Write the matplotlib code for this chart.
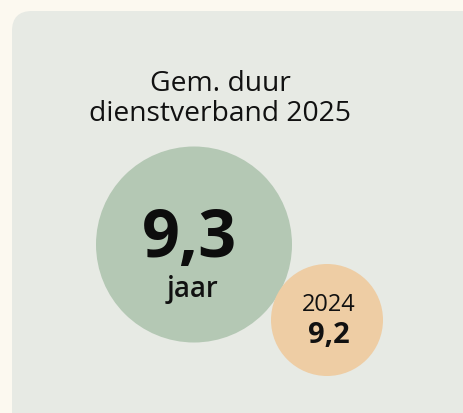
import matplotlib
matplotlib.use("Agg")
import matplotlib.pyplot as plt
from matplotlib.patches import Circle, FancyBboxPatch

# Data
title_lines = ["Gem. duur", "dienstverband 2025"]
value_2025 = "9,3"
unit_2025 = "jaar"
label_2024 = "2024"
value_2024 = "9,2"

W, H = 464, 414
fig = plt.figure(figsize=(W / 100, H / 100), dpi=100)
fig.patch.set_facecolor("#fcf9f0")
ax = fig.add_axes([0, 0, 1, 1])
ax.set_xlim(0, W)
ax.set_ylim(H, 0)
ax.axis("off")

FONT = "Open Sans"

panel = FancyBboxPatch((12, 12), 480, 440, boxstyle="round,pad=0,rounding_size=20",
                       facecolor="#e7eae4", edgecolor="none")
ax.add_patch(panel)

ax.add_patch(Circle((194, 245.5), 98, facecolor="#b4c8b4", edgecolor="none"))
ax.add_patch(Circle((327, 321), 56, facecolor="#eecda4", edgecolor="none"))

ax.text(220.5, 91, title_lines[0], ha="center", va="baseline", fontsize=20.3,
        family=FONT, color="#111111")
ax.text(220.5, 121, title_lines[1], ha="center", va="baseline", fontsize=20.3,
        family=FONT, color="#111111")

ax.text(190, 257, value_2025, ha="center", va="baseline", fontsize=48,
        family=FONT, fontweight="bold", color="#0d0d0d")
ax.text(193, 297, unit_2025, ha="center", va="baseline", fontsize=20,
        family=FONT, fontweight="semibold", color="#111111")

ax.text(329, 311, label_2024, ha="center", va="baseline", fontsize=17,
        family=FONT, color="#111111")
ax.text(329, 343, value_2024, ha="center", va="baseline", fontsize=21,
        family=FONT, fontweight="bold", color="#111111")

fig.savefig("out.png", dpi=100, facecolor=fig.get_facecolor())
